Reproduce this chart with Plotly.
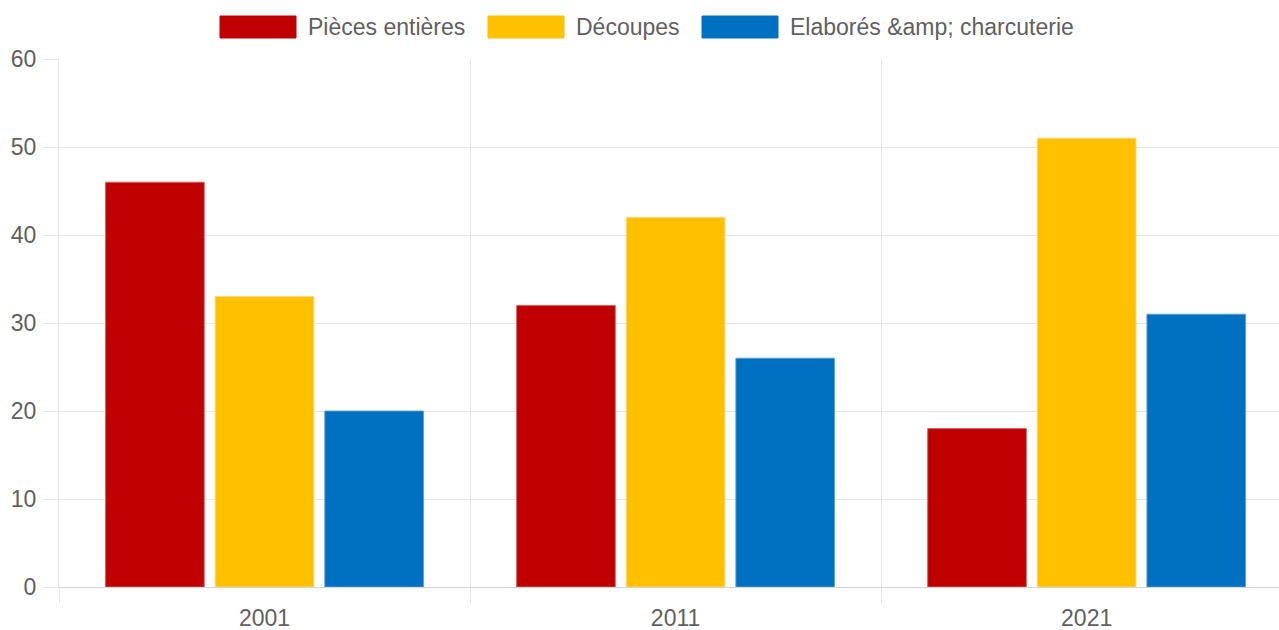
import plotly.graph_objects as go

# ---- data ----
years = ["2001", "2011", "2021"]
series_names = ["Pièces entières", "Découpes", "Elaborés &amp; charcuterie"]
pieces_entieres = [46, 32, 18]
decoupes = [33, 42, 51]
elabores = [20, 26, 31]
series_values = [pieces_entieres, decoupes, elabores]
colors = ["#C00000", "#FFC000", "#0070C0"]
edge_colors = ["rgba(214,90,90,0.9)", "rgba(255,214,120,0.9)", "rgba(90,160,215,0.9)"]

# ---- layout constants (pixels) ----
W, H = 1279, 630
ML, MR, MT, MB = 59, 0, 59, 43
PW, PH = W - ML - MR, H - MT - MB
FONT = "Liberation Sans, Arial, Helvetica, sans-serif"
GREY_TXT = "#5f5f5f"
GRID = "#e6e6e6"

fig = go.Figure()
for name, vals, col, ecol in zip(series_names, series_values, colors, edge_colors):
    fig.add_trace(go.Bar(
        x=years, y=vals, name=name,
        marker=dict(color=col, line=dict(color=ecol, width=1)),
        hoverinfo="x+y+name",
    ))

# custom legend (wide colored boxes like the original)
legend_box_left = [220, 488, 702]   # pixel x of each legend box
BOX_W, BOX_H, BOX_TOP = 76, 22, 16

def px_x(px):
    return (px - ML) / PW

def px_y(py):
    return (H - MB - py) / PH

shapes = []
annotations = []
for name, col, bx in zip(series_names, colors, legend_box_left):
    shapes.append(dict(
        type="rect", xref="paper", yref="paper",
        x0=px_x(bx), x1=px_x(bx + BOX_W),
        y0=px_y(BOX_TOP + BOX_H), y1=px_y(BOX_TOP),
        fillcolor=col, line=dict(color=col, width=1),
    ))
    annotations.append(dict(
        xref="paper", yref="paper",
        x=px_x(bx + BOX_W + 10), y=px_y(BOX_TOP + BOX_H / 2),
        xanchor="left", yanchor="middle", showarrow=False,
        text=name.replace("&", "&amp;"),
        font=dict(family=FONT, size=23, color=GREY_TXT),
    ))

fig.update_layout(
    width=W, height=H,
    margin=dict(l=ML, r=MR, t=MT, b=MB, pad=0),
    paper_bgcolor="white", plot_bgcolor="white",
    barmode="group", bargap=0.2, bargroupgap=0.1,
    showlegend=False,
    shapes=shapes, annotations=annotations,
    font=dict(family=FONT, size=23, color=GREY_TXT),
)

fig.update_xaxes(
    type="category", range=[-0.5, 2.468],
    tickson="boundaries", ticks="outside", ticklen=15, tickcolor=GRID, tickwidth=1,
    showgrid=True, gridcolor=GRID, gridwidth=1,
    showline=True, linecolor="#d4d4d4", linewidth=1,
    ticklabelstandoff=10,
    tickfont=dict(family=FONT, size=23, color=GREY_TXT),
    fixedrange=True,
)
fig.update_yaxes(
    range=[0, 60], dtick=10, tick0=0,
    ticks="outside", ticklen=15, tickcolor=GRID, tickwidth=1,
    showgrid=True, gridcolor=GRID, gridwidth=1,
    zeroline=False,
    showline=True, linecolor=GRID, linewidth=1,
    ticklabelstandoff=2,
    tickfont=dict(family=FONT, size=23, color=GREY_TXT),
    fixedrange=True,
)

fig.write_html("out.html", config={"displayModeBar": False})
